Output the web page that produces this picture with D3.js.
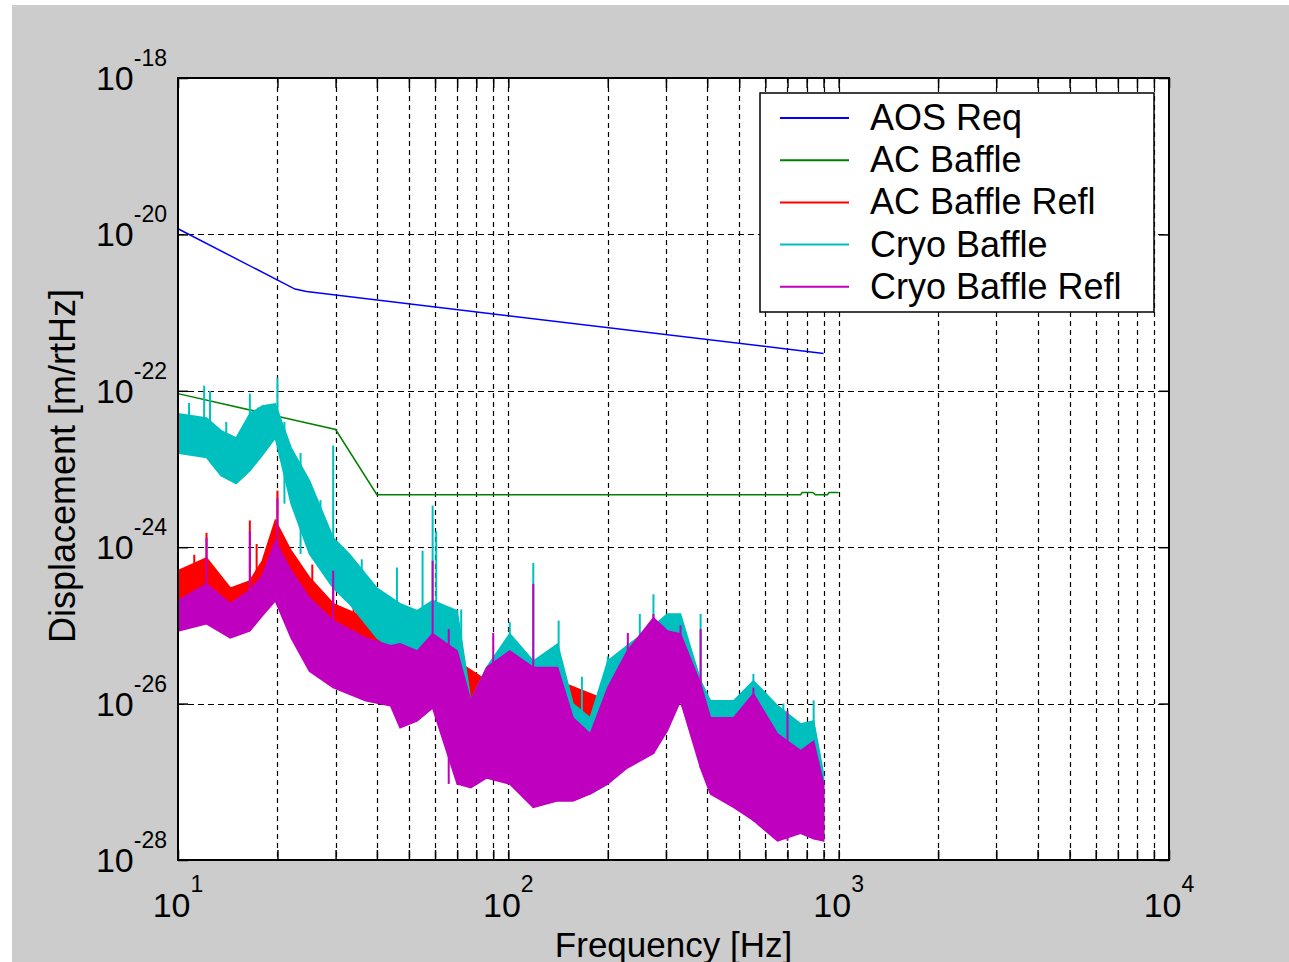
<!DOCTYPE html>
<html>
<head>
<meta charset="utf-8">
<script src="https://cdn.jsdelivr.net/npm/d3@7"></script>
<style>
  body { margin: 0; background: #fff; }
  svg text { font-family: "Liberation Sans", Arial, sans-serif; fill: #000; }
</style>
</head>
<body>
<div id="chart"></div>
<script>
// ---- data ----
const xTickExp = ["1", "2", "3", "4"];
const xTickVals = [1e1, 1e2, 1e3, 1e4];
const yTickExp = ["-18", "-20", "-22", "-24", "-26", "-28"];
const yTickVals = [1e-18, 1e-20, 1e-22, 1e-24, 1e-26, 1e-28];

const legendNames = ["AOS Req", "AC Baffle", "AC Baffle Refl", "Cryo Baffle", "Cryo Baffle Refl"];
const legendColors = ["#0000ff", "#008000", "#ff0000", "#00bfbf", "#bf00bf"];

// AOS requirement (blue)
const aosFreq = [10, 22.6, 24.5, 900];
const aosVal = [1.18e-20, 2.0e-21, 1.86e-21, 3.0e-22];

// AC baffle (green)
const acFreq = [10, 30, 40, 767, 775, 835, 850, 925, 935, 1000];
const acVal = [9.2e-23, 3.2e-23, 4.7e-24, 4.7e-24, 5.0e-24, 5.0e-24, 4.7e-24, 4.7e-24, 5.0e-24, 5.0e-24];

// AC baffle refl (red): envelope top / bottom
const acReflFreq = [10, 12.2, 14.4, 16.5, 18, 19.7, 22, 25, 29.5, 37, 44, 53, 59, 70, 86, 101, 141, 200, 275, 332, 409, 552, 767, 900];
const acReflTop = [5.0e-25, 7.3e-25, 3.0e-25, 3.7e-25, 6.7e-25, 2.2e-24, 9.0e-25, 4.1e-25, 1.9e-25, 1.25e-25, 5.8e-26, 4.3e-26, 1.15e-25, 3.5e-26, 1.96e-26, 3.5e-26, 1.96e-26, 1.09e-26, 8.5e-26, 6.4e-26, 6.0e-27, 1.09e-26, 2.5e-27, 8.9e-28];
const acReflBot = [1.54e-25, 1.9e-25, 7.8e-26, 1.15e-25, 1.8e-25, 3.7e-25, 1.54e-25, 6.9e-26, 3.5e-26, 2.6e-26, 2.1e-26, 1.46e-26, 1.46e-26, 1.86e-27, 1.86e-27, 1.38e-27, 7.7e-28, 1.19e-27, 2.9e-27, 1.09e-26, 7.7e-28, 4.3e-28, 2.4e-28, 1.87e-28];
const acReflSpikeFreq = [11.2, 12.2, 16.5, 17.3, 20, 25.5, 29.5, 34, 40, 48];
const acReflSpikeVal = [8.0e-25, 1.53e-24, 2.2e-24, 1.1e-24, 5.3e-24, 6.0e-25, 5.8e-25, 2.5e-25, 1.6e-25, 9.0e-26];

// Cryo baffle (cyan)
const cryoFreq = [10, 12.2, 13.5, 15, 16.5, 18, 19.7, 22, 25, 29.5, 33, 40, 47, 53, 59, 70, 77, 86, 101, 119, 141, 157, 177, 200, 229, 275, 303, 332, 382, 409, 481, 552, 653, 767, 840, 900];
const cryoTop = [5.1e-23, 4.5e-23, 3.1e-23, 2.5e-23, 5.1e-23, 6.4e-23, 6.8e-23, 1.87e-23, 7.1e-24, 1.32e-24, 8.2e-25, 3.0e-25, 1.9e-25, 1.54e-25, 2.07e-25, 1.54e-25, 1.09e-26, 2.9e-26, 7.8e-26, 3.5e-26, 5.8e-26, 9.9e-27, 6.6e-27, 3.5e-26, 5.5e-26, 9.9e-26, 1.4e-25, 1.4e-25, 1.96e-26, 1.09e-26, 1.09e-26, 1.96e-26, 9.4e-27, 5.5e-27, 6.0e-27, 1.26e-27];
const cryoBot = [1.6e-23, 1.4e-23, 8.2e-24, 6.5e-24, 9.5e-24, 1.5e-23, 2.5e-23, 3.6e-24, 8.2e-25, 3.0e-25, 1.9e-25, 6.9e-26, 4.3e-26, 3.5e-26, 1.6e-26, 4.1e-27, 9.4e-28, 1.5e-27, 6.6e-27, 2.5e-27, 1.26e-27, 1.5e-27, 7.0e-28, 9.4e-28, 1.86e-27, 4.1e-27, 6.0e-27, 1.6e-26, 4.1e-27, 9.4e-28, 5.7e-28, 3.2e-28, 2.2e-28, 2.9e-28, 2.2e-28, 1.76e-28];
const cryoSpikeFreq = [10.8, 12.0, 12.5, 14.0, 16.5, 17.5, 20, 21, 23.5, 27, 29.5, 36, 46, 55, 59, 60.5, 67, 72, 101, 119, 142, 167, 200, 250, 275, 320, 382, 552, 680, 840];
const cryoSpikeVal = [7.0e-23, 1.16e-22, 1.0e-22, 4.0e-23, 9.2e-23, 6.1e-23, 1.47e-22, 4.0e-23, 1.6e-23, 4.0e-24, 2.0e-23, 7.0e-25, 5.5e-25, 9.0e-25, 3.4e-24, 1.6e-24, 1.68e-25, 1.6e-25, 1.1e-25, 6.3e-25, 1.15e-25, 2.2e-26, 4.0e-26, 1.4e-25, 2.5e-25, 1.4e-25, 1.4e-25, 2.4e-26, 1.0e-26, 1.1e-26];

// Cryo baffle refl (magenta)
const cryoReflFreq = [10, 12.2, 14.4, 16.5, 18, 19.7, 22, 25, 29.5, 37, 44, 47, 53, 59, 70, 77, 86, 101, 119, 141, 157, 177, 200, 229, 275, 303, 332, 382, 409, 481, 552, 653, 767, 840, 900];
const cryoReflTop = [2.07e-25, 3.4e-25, 1.9e-25, 2.8e-25, 4.3e-25, 1.2e-24, 5.0e-25, 2.25e-25, 1.15e-25, 6.9e-26, 5.5e-26, 5.8e-26, 4.7e-26, 7.8e-26, 4.7e-26, 1.09e-26, 2.9e-26, 4.7e-26, 2.9e-26, 2.9e-26, 6.6e-27, 4.1e-27, 1.6e-26, 4.7e-26, 1.25e-25, 8.5e-26, 7.8e-26, 1.8e-26, 6.6e-27, 6.6e-27, 1.33e-26, 4.1e-27, 2.5e-27, 3.3e-27, 9.4e-28];
const cryoReflBot = [8.5e-26, 1.05e-25, 6.9e-26, 8.5e-26, 1.33e-25, 2.07e-25, 6.9e-26, 2.6e-26, 1.6e-26, 1.09e-26, 9.4e-27, 4.9e-27, 6.0e-27, 8.8e-27, 9.4e-28, 8.4e-28, 1.12e-27, 9.4e-28, 4.7e-28, 5.7e-28, 5.7e-28, 7.0e-28, 9.4e-28, 1.5e-27, 2.3e-27, 4.5e-27, 1.09e-26, 1.5e-27, 7.0e-28, 4.7e-28, 3.2e-28, 1.76e-28, 2.2e-28, 1.87e-28, 1.76e-28];
const cryoReflSpikeFreq = [12.2, 16.5, 20, 29.5, 59, 66, 90, 119, 230, 275, 332, 382, 552, 700];
const cryoReflSpikeVal = [1.32e-24, 1.6e-24, 4.3e-24, 5.0e-25, 6.7e-25, 9.0e-26, 8.0e-26, 3.4e-25, 8.0e-26, 1.4e-25, 1.0e-25, 9.0e-26, 1.6e-26, 8.0e-27];

// ---- layout ----
const width = 1289;
const height = 962;
const plot = { left: 178, top: 78, right: 1169, bottom: 860 };

const svg = d3
    .select("#chart")
    .append("svg")
    .attr("width", width)
    .attr("height", height);

// gray figure background
svg.append("rect")
    .attr("x", 12).attr("y", 5)
    .attr("width", width - 12).attr("height", height - 5)
    .attr("fill", "#cccccc");

svg.append("rect")
    .attr("x", plot.left).attr("y", plot.top)
    .attr("width", plot.right - plot.left).attr("height", plot.bottom - plot.top)
    .attr("fill", "#ffffff");

const x = d3.scaleLog().domain([10, 1e4]).range([plot.left, plot.right]);
const y = d3.scaleLog().domain([1e-28, 1e-18]).range([plot.bottom, plot.top]);

const allXTicks = x.ticks();

// grid
const grid = svg.append("g").attr("id", "grid")
    .attr("stroke", "#000").attr("stroke-width", 1.2).attr("fill", "none");
grid.selectAll("line.vx")
    .data(allXTicks.filter((d) => d > 10 && d < 1e4))
    .enter().append("line")
    .attr("x1", (d) => Math.round(x(d)) + 0.5).attr("x2", (d) => Math.round(x(d)) + 0.5)
    .attr("y1", plot.top).attr("y2", plot.bottom)
    .attr("stroke-dasharray", "5,4");
grid.selectAll("line.hy")
    .data(yTickVals.filter((d) => d > 1e-28 && d < 1e-18))
    .enter().append("line")
    .attr("x1", plot.left).attr("x2", plot.right)
    .attr("y1", (d) => Math.round(y(d)) + 0.5).attr("y2", (d) => Math.round(y(d)) + 0.5)
    .attr("stroke-dasharray", "6,4");

// ---- data ----
const lines = svg.append("g").attr("id", "lines");
const valueLine = d3.line().x((d) => x(d[0])).y((d) => y(d[1]));

function drawNoise(freq, top, bot, spikeF, spikeV, color) {
    const rows = freq.map((f, i) => ({ f: f, top: top[i], bot: bot[i] }));
    const area = d3.area()
        .x((d) => x(d.f))
        .y0((d) => y(d.bot))
        .y1((d) => y(d.top));
    lines.append("path")
        .attr("d", area(rows))
        .attr("fill", color)
        .attr("stroke", color)
        .attr("stroke-width", 1.5)
        .attr("stroke-linejoin", "miter");
    const bis = d3.bisector((d) => d.f).center;
    const spikes = spikeF.map((f, i) => ({ f: f, v: spikeV[i], base: rows[bis(rows, f)].bot }));
    lines.append("g").selectAll("line")
        .data(spikes).enter().append("line")
        .attr("x1", (d) => x(d.f)).attr("x2", (d) => x(d.f))
        .attr("y1", (d) => y(d.v)).attr("y2", (d) => y(d.base))
        .attr("stroke", color).attr("stroke-width", 2);
}

lines.append("path")
    .attr("d", valueLine(aosFreq.map((f, i) => [f, aosVal[i]])))
    .attr("fill", "none").attr("stroke", legendColors[0]).attr("stroke-width", 1.5);
lines.append("path")
    .attr("d", valueLine(acFreq.map((f, i) => [f, acVal[i]])))
    .attr("fill", "none").attr("stroke", legendColors[1]).attr("stroke-width", 1.5);

drawNoise(acReflFreq, acReflTop, acReflBot, acReflSpikeFreq, acReflSpikeVal, legendColors[2]);
drawNoise(cryoFreq, cryoTop, cryoBot, cryoSpikeFreq, cryoSpikeVal, legendColors[3]);
drawNoise(cryoReflFreq, cryoReflTop, cryoReflBot, cryoReflSpikeFreq, cryoReflSpikeVal, legendColors[4]);

// ---- axes (ticks inward on all four sides) ----
const axisGroup = svg.append("g").attr("id", "axisGroup");
const tickLen = 10;
axisGroup.append("g")
    .attr("transform", `translate(0, ${plot.bottom})`)
    .call(d3.axisBottom(x).tickValues(allXTicks).tickSizeInner(-tickLen).tickSizeOuter(0).tickFormat(""));
axisGroup.append("g")
    .attr("transform", `translate(0, ${plot.top})`)
    .call(d3.axisTop(x).tickValues(allXTicks).tickSizeInner(-tickLen).tickSizeOuter(0).tickFormat(""));
axisGroup.append("g")
    .attr("transform", `translate(${plot.left}, 0)`)
    .call(d3.axisLeft(y).tickValues(yTickVals).tickSizeInner(-tickLen).tickSizeOuter(0).tickFormat(""));
axisGroup.append("g")
    .attr("transform", `translate(${plot.right}, 0)`)
    .call(d3.axisRight(y).tickValues(yTickVals).tickSizeInner(-tickLen).tickSizeOuter(0).tickFormat(""));
axisGroup.selectAll(".domain").remove();
axisGroup.selectAll(".tick line").attr("stroke", "#000").attr("stroke-width", 1.5);

axisGroup.append("rect")
    .attr("x", plot.left).attr("y", plot.top)
    .attr("width", plot.right - plot.left).attr("height", plot.bottom - plot.top)
    .attr("fill", "none").attr("stroke", "#000").attr("stroke-width", 2);

// tick labels 10^n
const xLabels = axisGroup.append("g").selectAll("text")
    .data(xTickVals).enter().append("text")
    .attr("x", (d) => x(d))
    .attr("y", 917)
    .attr("text-anchor", "middle")
    .attr("font-size", 34);
xLabels.append("tspan").text("10");
xLabels.append("tspan").attr("dy", -25).attr("font-size", 23).text((d, i) => xTickExp[i]);

const yLabels = axisGroup.append("g").selectAll("text")
    .data(yTickVals).enter().append("text")
    .attr("x", 167)
    .attr("y", (d) => y(d) + 12)
    .attr("text-anchor", "end")
    .attr("font-size", 34);
yLabels.append("tspan").text("10");
yLabels.append("tspan").attr("dy", -24).attr("font-size", 23).text((d, i) => yTickExp[i]);

// axis titles
svg.append("text")
    .attr("x", (plot.left + plot.right) / 2)
    .attr("y", 957)
    .attr("text-anchor", "middle")
    .attr("font-size", 35)
    .text("Frequency [Hz]");
svg.append("text")
    .attr("transform", "translate(75, 466) rotate(-90)")
    .attr("text-anchor", "middle")
    .attr("font-size", 36)
    .text("Displacement [m/rtHz]");

// ---- legend ----
const legend = svg.append("g").attr("id", "legend");
legend.append("rect")
    .attr("x", 760).attr("y", 93)
    .attr("width", 394).attr("height", 219)
    .attr("fill", "#fff").attr("stroke", "#000").attr("stroke-width", 1.5);
const rows = legend.selectAll("g.row")
    .data(legendNames).enter().append("g")
    .attr("transform", (d, i) => `translate(0, ${118 + i * 42.2})`);
rows.append("line")
    .attr("x1", 780).attr("x2", 849)
    .attr("stroke", (d, i) => legendColors[i])
    .attr("stroke-width", 2);
rows.append("text")
    .attr("x", 870).attr("y", 12)
    .attr("font-size", 36)
    .text((d) => d);
</script>
</body>
</html>
